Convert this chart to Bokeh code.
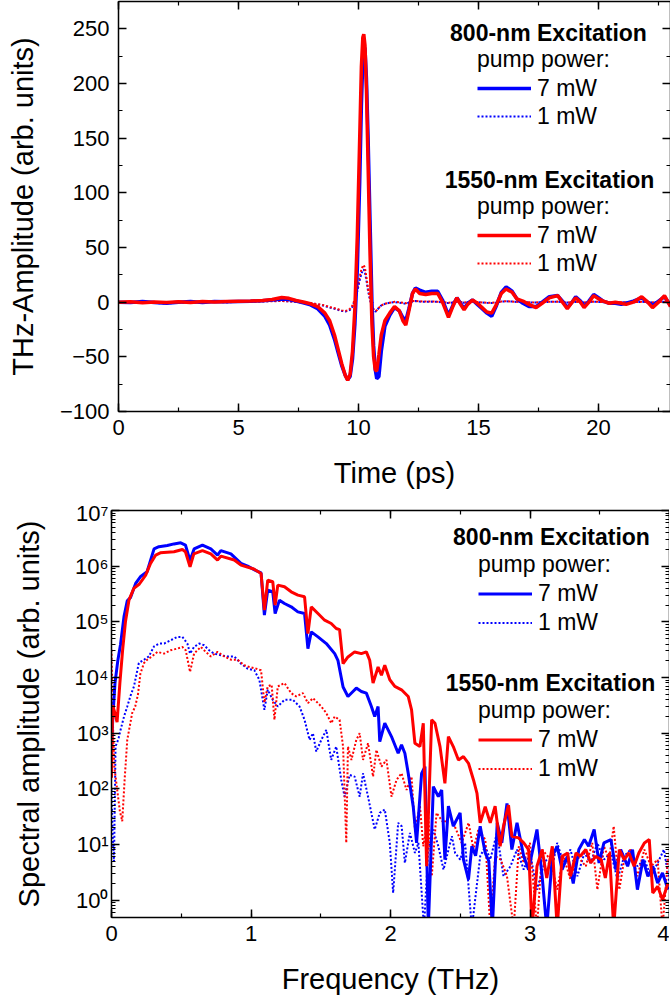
import numpy as np
from bokeh.plotting import figure
from bokeh.models import (Range1d, LinearAxis, LogAxis, LogScale, SingleIntervalTicker, FixedTicker,
                          CustomJSTickFormatter, Legend, LegendItem, Label)
from bokeh.embed import file_html
from bokeh.resources import INLINE

# ---------------- data: THz time traces (top panel) ----------------
time_ps = [0, 0.5, 1, 1.5, 2, 2.5, 3, 3.5, 4, 4.5, 5, 5.5, 6,
           6.4, 6.8, 7.1, 7.4, 7.7,
           8.0, 8.3, 8.6, 8.8, 9.0,
           9.15, 9.3, 9.45, 9.55, 9.65, 9.75, 9.85, 9.95,
           10.05, 10.12, 10.18, 10.22, 10.27, 10.33, 10.4, 10.48, 10.56, 10.63, 10.7, 10.76, 10.85, 10.95,
           11.1, 11.3, 11.5, 11.7, 11.85, 11.97,
           12.1, 12.25, 12.37, 12.55, 12.8,
           13.05, 13.3, 13.5, 13.75, 13.95,
           14.1, 14.25, 14.4, 14.55, 14.75, 14.95,
           15.15, 15.35, 15.55, 15.75, 15.95,
           16.15, 16.4, 16.6, 16.85,
           17.1, 17.4, 17.65, 17.95,
           18.3, 18.5, 18.7, 18.9,
           19.05, 19.25, 19.4, 19.6, 19.8,
           20.0, 20.2, 20.45, 20.7, 20.95,
           21.15, 21.45, 21.8,
           22.05, 22.25, 22.5, 22.75, 23.0]

thz_800nm_7mW = [0, -0.3, 0.5, -0.3, -1.0, 0, 0.5, -0.2, 0.6, 0.3, 0.6, 0.9, 1.4,
                 2, 3, 2.5, 1, -0.5,
                 -2.5, -6, -13, -21, -34,
                 -46, -58, -67, -71, -68, -52, -20, 30,
                 110, 180, 222, 234, 232, 205, 150, 75, 0, -40, -62, -70, -68, -45,
                 -22, -12, -5, -8, -14, -17,
                 -6, 8, 13, 11, 9,
                 10, 10, 2, -12, -2,
                 4, -1, -6, -1, 2, -2,
                 -6, -10, -13, -3, 9,
                 14, 10, 3, -1,
                 -4, -4, 0, 5,
                 6, 1, -5, 0,
                 5, 1, -4, 1, 7,
                 4, 1, -1, -1, -2,
                 -1, 1, 4,
                 0, -3, 1, 5, -3]

thz_800nm_1mW = [0, -0.5, 0.3, -0.8, -1.2, -0.3, -0.8, 0.2, 0.3, -0.2, 0.3, 0.5, 0.8,
                 1, 1.2, 0.8, 0.3, -0.5,
                 -1, -2, -3.5, -5, -6,
                 -7, -8, -8.5, -8, -7, -4, 2, 10,
                 20, 26, 29, 30, 27, 20, 10, 2, -4, -7, -8.5, -8, -5, -3,
                 -1.5, -0.5, 0, -0.5, -1, -1.5,
                 -0.5, 0.5, 1, 0.5, 0.3,
                 0.5, 0.3, -0.3, -0.8, -0.3,
                 0.3, 0, -0.5, 0, 0.3, 0,
                 -0.3, -0.6, -0.8, -0.2, 0.5,
                 0.8, 0.5, 0.2, 0,
                 -0.2, -0.3, 0, 0.3,
                 0.4, 0, -0.4, 0,
                 0.3, 0, -0.3, 0, 0.4,
                 0.2, 0, -0.1, 0, -0.1,
                 -0.1, 0, 0.3,
                 0, -0.3, 0, 0.4, -0.2]

thz_1550nm_7mW = [0, 0.3, -0.5, 0.2, -0.4, 0.3, -0.3, 0.5, 0.2, 0.5, 0.8, 1.0, 1.5,
                  2.5, 4.2, 3.5, 1.5, 0.2,
                  -1.5, -4, -10, -17, -30,
                  -43, -56, -67, -71.5, -66, -45, -5, 60,
                  150, 215, 242, 245, 235, 195, 125, 45, -20, -50, -62, -63, -48, -30,
                  -17, -10, -4, -8, -17, -21,
                  -8, 8, 12, 8, 7,
                  8, 8, 0, -14, -3,
                  4, -2, -7, -2, 2, -1,
                  -5, -9, -10, -2, 8,
                  12, 9, 3, 1,
                  -2, -5, -1, 4,
                  6, 0, -6, 0,
                  4, 0, -5, 0, 6,
                  3, 1, -1, 0, -1,
                  -2, 0, 5,
                  0, -5, 0, 6, -4]

thz_1550nm_1mW = [0, 0.2, -0.2, 0.1, -0.3, 0.2, -0.1, 0.3, 0.2, 0.3, 0.4, 0.5, 0.7,
                  0.9, 1.0, 0.8, 0.3, -0.3,
                  -0.8, -1.8, -3, -4.5, -5.5,
                  -6.5, -7.5, -8, -7.5, -6, -3, 3, 12,
                  23, 30, 33, 34, 31, 23, 12, 3, -3.5, -6.5, -8, -7.5, -5, -3,
                  -1.5, -0.5, 0.3, 0, -0.5, -1,
                  0, 1, 1.2, 0.8, 0.5,
                  0.6, 0.4, 0, -0.5, 0,
                  0.4, 0.1, -0.3, 0, 0.3, 0.1,
                  -0.2, -0.5, -0.6, 0, 0.6,
                  0.9, 0.6, 0.3, 0.1,
                  -0.1, -0.3, 0.1, 0.3,
                  0.5, 0.1, -0.3, 0.1,
                  0.4, 0.1, -0.2, 0.1, 0.5,
                  0.3, 0.1, 0, 0.1, 0,
                  -0.1, 0.1, 0.3,
                  0.1, -0.2, 0.1, 0.4, -0.1]

# ---------------- data: spectra (bottom panel), log10 of spectral amplitude ----------------
freq_800nm_7mW = [0.000, 0.010, 0.025, 0.045, 0.065, 0.090, 0.113, 0.137, 0.173, 0.207,
                  0.255, 0.305, 0.340, 0.400, 0.448, 0.496, 0.530, 0.563, 0.592, 0.652,
                  0.712, 0.760, 0.784, 0.856, 0.928, 0.976, 1.036, 1.072, 1.096, 1.120,
                  1.156, 1.173, 1.204, 1.240, 1.288, 1.336, 1.384, 1.408, 1.432, 1.480,
                  1.540, 1.600, 1.623, 1.660, 1.695, 1.731, 1.755, 1.791, 1.827, 1.863,
                  1.887, 1.911, 1.923, 1.959, 2.007, 2.055, 2.079, 2.103, 2.127, 2.163,
                  2.187, 2.223, 2.247, 2.271, 2.307, 2.343, 2.367, 2.390, 2.415, 2.450,
                  2.499, 2.523, 2.559, 2.583, 2.610, 2.643, 2.679, 2.705, 2.730, 2.765,
                  2.798, 2.835, 2.870, 2.907, 2.955, 2.990, 3.050, 3.087, 3.120, 3.160,
                  3.195, 3.230, 3.270, 3.310, 3.350, 3.390, 3.420, 3.460, 3.495, 3.530,
                  3.580, 3.615, 3.650, 3.700, 3.735, 3.770, 3.810, 3.845, 3.880, 3.915,
                  3.950, 3.990]
log10_spec_800nm_7mW = [2.8, 3.3, 3.9, 4.3, 4.6, 5.1, 5.38, 5.44, 5.69, 5.81,
                        5.90, 6.31, 6.35, 6.37, 6.40, 6.42, 6.38, 6.10, 6.31, 6.38,
                        6.31, 6.20, 6.28, 6.22, 6.05, 6.00, 5.92, 5.88, 5.12, 5.57,
                        5.54, 5.15, 5.39, 5.33, 5.27, 5.18, 5.15, 4.52, 4.82, 4.73,
                        4.61, 4.43, 4.31, 3.83, 3.66, 3.75, 3.81, 3.75, 3.72, 3.48,
                        3.30, 3.48, 2.85, 3.18, 2.94, 2.64, 2.79, 2.64, 2.28, 1.68,
                        1.03, 2.28, 2.40, -0.5, 2.04, 1.86, 1.98, 0.73, 1.69, 1.33,
                        1.57, 0.73, 0.37, 0.97, 0.80, 1.33, 0.85, 0.70, -0.5, 1.39,
                        1.03, 1.74, 0.91, 1.39, 0.79, 0.55, 1.27, 0.43, -0.5, 0.79,
                        0.97, 0.55, 0.79, 0.30, 0.91, 1.09, 0.97, 1.27, 0.67, 1.03,
                        1.09, 0.55, 0.91, 0.61, 0.91, 0.19, 0.73, 0.43, 0.61, 0.31,
                        0.49, 0.19]

freq_800nm_1mW = [0.000, 0.008, 0.018, 0.029, 0.050, 0.065, 0.090, 0.113, 0.140, 0.161,
                  0.196, 0.233, 0.268, 0.305, 0.340, 0.377, 0.424, 0.472, 0.508, 0.544,
                  0.563, 0.592, 0.628, 0.664, 0.700, 0.736, 0.784, 0.830, 0.880, 0.928,
                  0.976, 1.024, 1.060, 1.096, 1.120, 1.156, 1.192, 1.240, 1.300, 1.348,
                  1.384, 1.420, 1.444, 1.468, 1.504, 1.540, 1.575, 1.611, 1.647, 1.671,
                  1.707, 1.743, 1.779, 1.803, 1.839, 1.887, 1.923, 1.959, 1.995, 2.019,
                  2.055, 2.080, 2.103, 2.139, 2.175, 2.200, 2.240, 2.270, 2.307, 2.343,
                  2.380, 2.440, 2.463, 2.500, 2.535, 2.583, 2.643, 2.680, 2.715, 2.763,
                  2.810, 2.860, 2.907, 2.955, 3.000, 3.050, 3.110, 3.160, 3.195, 3.240,
                  3.290, 3.340, 3.390, 3.435, 3.483, 3.530, 3.580, 3.627, 3.675, 3.720,
                  3.770, 3.820, 3.867, 3.915, 3.960, 4.000]
log10_spec_800nm_1mW = [2.0, 1.2, 0.7, 2.76, 2.9, 3.06, 3.3, 3.48, 3.7, 3.84,
                        4.26, 4.32, 4.38, 4.56, 4.61, 4.61, 4.67, 4.73, 4.73, 4.61,
                        4.43, 4.55, 4.61, 4.58, 4.49, 4.43, 4.40, 4.38, 4.38, 4.25,
                        4.16, 4.13, 3.96, 3.42, 3.78, 3.60, 3.48, 3.60, 3.60, 3.48,
                        3.24, 2.88, 3.00, 2.67, 2.88, 3.06, 2.52, 2.76, 2.16, 1.86,
                        2.25, 2.22, 1.86, 2.28, 1.86, 1.27, 1.57, 1.63, 1.03, 0.13,
                        1.39, 1.33, 0.67, 1.21, 0.85, 1.03, -0.5, 0.9, 1.27, 0.97,
                        0.55, 1.15, 0.85, 0.73, 1.03, -0.5, 0.79, 0.97, 0.73, 1.21,
                        0.43, 0.61, 0.91, 0.55, 0.85, 0.19, 0.73, 0.61, 1.03, 0.67,
                        0.91, 0.43, 0.85, 0.67, 1.03, 0.73, 0.85, 0.37, 0.79, 0.91,
                        0.61, 0.73, 0.43, 0.67, 0.91, 0.31]

freq_1550nm_7mW = [0.000, 0.008, 0.020, 0.040, 0.060, 0.080, 0.100, 0.125, 0.160, 0.200,
                   0.245, 0.280, 0.317, 0.350, 0.448, 0.508, 0.530, 0.563, 0.590, 0.652,
                   0.712, 0.760, 0.784, 0.880, 0.928, 1.020, 1.072, 1.096, 1.120, 1.156,
                   1.173, 1.192, 1.240, 1.288, 1.336, 1.384, 1.408, 1.432, 1.480, 1.528,
                   1.575, 1.611, 1.635, 1.660, 1.695, 1.743, 1.791, 1.827, 1.851, 1.875,
                   1.911, 1.935, 1.959, 1.995, 2.031, 2.079, 2.127, 2.151, 2.175, 2.211,
                   2.235, 2.259, 2.295, 2.319, 2.355, 2.390, 2.415, 2.450, 2.487, 2.523,
                   2.559, 2.595, 2.620, 2.643, 2.679, 2.715, 2.750, 2.786, 2.810, 2.846,
                   2.870, 2.918, 2.955, 2.990, 3.015, 3.050, 3.087, 3.120, 3.160, 3.195,
                   3.230, 3.270, 3.290, 3.330, 3.360, 3.400, 3.435, 3.470, 3.510, 3.540,
                   3.570, 3.600, 3.640, 3.675, 3.710, 3.746, 3.780, 3.820, 3.855, 3.880,
                   3.915, 3.950, 3.990]
log10_spec_1550nm_7mW = [2.2, 3.5, 3.4, 3.2, 3.9, 4.5, 5.0, 5.39, 5.60, 5.68,
                         5.84, 6.05, 6.20, 6.24, 6.26, 6.30, 6.26, 5.99, 6.22, 6.28,
                         6.22, 6.11, 6.18, 6.11, 6.02, 5.95, 5.87, 5.21, 5.75, 5.72,
                         5.30, 5.66, 5.63, 5.54, 5.48, 5.45, 4.79, 5.27, 5.15, 5.03,
                         4.97, 4.88, 4.86, 4.25, 4.37, 4.46, 4.43, 4.46, 4.31, 3.90,
                         4.19, 4.04, 4.22, 3.96, 3.84, 3.78, 3.66, 3.42, 2.82, 2.76,
                         3.18, 0.61, 3.24, 3.18, 2.76, 2.10, 2.94, 2.76, 2.52, 2.58,
                         2.46, 2.16, 1.92, 1.39, 1.68, 1.39, 1.69, 0.97, 1.33, 1.71,
                         1.15, 1.12, 1.03, 0.91, -0.5, 0.61, 0.91, 0.40, 0.97, -0.5,
                         0.79, 0.85, 0.43, 0.85, 0.79, 0.91, 0.67, 0.79, 0.73, 0.40,
                         0.85, -0.5, 0.91, 0.73, 0.85, 0.61, 0.85, 1.03, 1.09, 0.13,
                         0.25, 0.01, 0.31]

freq_1550nm_1mW = [0.000, 0.010, 0.020, 0.040, 0.060, 0.077, 0.095, 0.113, 0.148, 0.170,
                   0.190, 0.207, 0.233, 0.256, 0.290, 0.329, 0.377, 0.424, 0.472, 0.508,
                   0.532, 0.563, 0.592, 0.640, 0.676, 0.712, 0.760, 0.808, 0.856, 0.904,
                   0.952, 0.988, 1.036, 1.072, 1.096, 1.120, 1.148, 1.168, 1.192, 1.240,
                   1.288, 1.324, 1.372, 1.408, 1.444, 1.504, 1.540, 1.575, 1.600, 1.635,
                   1.660, 1.683, 1.695, 1.720, 1.755, 1.779, 1.803, 1.839, 1.875, 1.899,
                   1.935, 1.971, 2.007, 2.043, 2.079, 2.115, 2.151, 2.175, 2.211, 2.235,
                   2.271, 2.296, 2.330, 2.380, 2.427, 2.460, 2.510, 2.560, 2.595, 2.630,
                   2.680, 2.715, 2.750, 2.790, 2.835, 2.883, 2.920, 2.955, 3.000, 3.050,
                   3.087, 3.147, 3.195, 3.240, 3.290, 3.340, 3.400, 3.446, 3.483, 3.530,
                   3.567, 3.600, 3.640, 3.675, 3.720, 3.770, 3.820, 3.867, 3.915, 3.950,
                   3.990]
log10_spec_1550nm_1mW = [4.5, 3.2, 2.4, 2.0, 1.6, 1.42, 2.2, 2.88, 3.36, 3.48,
                         3.70, 4.07, 4.26, 4.32, 4.38, 4.46, 4.43, 4.49, 4.52, 4.55,
                         4.49, 4.10, 4.43, 4.55, 4.46, 4.38, 4.46, 4.38, 4.32, 4.32,
                         4.22, 4.19, 4.16, 4.13, 3.55, 3.84, 3.87, 3.24, 3.84, 3.90,
                         3.72, 3.66, 3.72, 3.54, 3.63, 3.48, 3.36, 3.18, 3.30, 3.24,
                         2.76, 1.03, 2.76, 2.52, 2.88, 3.00, 2.52, 2.82, 2.22, 2.70,
                         2.40, 2.52, 1.86, 2.16, 2.28, 1.98, 2.22, 1.27, 1.69, 0.97,
                         1.51, 0.43, 1.57, 1.39, 1.51, 1.33, 1.03, 1.39, 0.91, 1.27,
                         1.09, -0.5, 0.79, 0.73, 0.43, -0.5, 0.97, 0.67, 1.03, -0.5,
                         0.91, 0.73, 0.19, 0.79, 0.37, 0.79, 0.61, 1.03, 0.19, 0.97,
                         0.73, 1.33, 0.19, 0.73, 0.91, 0.43, 0.91, 0.61, 0.73, -0.5,
                         0.79]

# ---------------- styling ----------------
FONT = "Liberation Sans"
BLUE = "#0000ff"
RED = "#ff0000"
TICK_FS = "22px"
LABEL_FS = "29px"
LEG_FS = "23px"

SUP_JS = """
const sup = ["\\u2070","\\u00b9","\\u00b2","\\u00b3","\\u2074","\\u2075","\\u2076","\\u2077","\\u2078","\\u2079"];
const e = Math.round(Math.log10(tick));
let s = "";
for (const c of String(e)) { s += (c === "-") ? "\\u207b" : sup[parseInt(c)]; }
return "10" + s;
"""


def style_axis(ax, show_labels=True, label_standoff=8):
    ax.axis_line_width = 1.5
    ax.axis_line_color = "black"
    ax.major_tick_in = 8
    ax.major_tick_out = 0
    ax.minor_tick_in = 4
    ax.minor_tick_out = 0
    ax.major_tick_line_width = 1.5
    ax.minor_tick_line_width = 1.2
    ax.major_tick_line_color = "black"
    ax.minor_tick_line_color = "black"
    if show_labels:
        ax.major_label_text_font = FONT
        ax.major_label_text_font_size = TICK_FS
        ax.major_label_text_color = "black"
        ax.major_label_standoff = label_standoff
        ax.axis_label_text_font = FONT
        ax.axis_label_text_font_size = LABEL_FS
        ax.axis_label_text_font_style = "normal"
        ax.axis_label_text_color = "black"
    else:
        ax.formatter = CustomJSTickFormatter(code="return ''")
        ax.major_label_text_font_size = "1px"
        ax.major_label_standoff = 0


def add_legend(p, r7, r1, x, y, row_h):
    leg = Legend(items=[LegendItem(label="7 mW", renderers=[r7]),
                        LegendItem(label="1 mW", renderers=[r1])],
                 location=(x, y), title="pump power:",
                 title_text_font=FONT, title_text_font_size=LEG_FS,
                 title_text_font_style="normal", title_text_color="black",
                 title_standoff=1,
                 label_text_font=FONT, label_text_font_size=LEG_FS, label_text_color="black",
                 label_standoff=6, glyph_width=54, glyph_height=row_h, label_height=row_h,
                 spacing=0, padding=0, margin=0,
                 background_fill_alpha=0, border_line_alpha=0)
    p.add_layout(leg)


def add_header(p, text, x, y):
    p.add_layout(Label(x=x, y=y, x_units="screen", y_units="screen", text=text,
                       text_font=FONT, text_font_size=LEG_FS, text_font_style="bold",
                       text_color="black", text_align="center", text_baseline="middle"))


# ---------------- top panel ----------------
p1 = figure(width=670, height=500, output_backend="svg", toolbar_location=None,
            x_range=Range1d(0, 23), y_range=Range1d(-100, 275),
            x_axis_type=None, y_axis_type=None,
            min_border_left=118, min_border_right=0, min_border_top=1, min_border_bottom=89)
p1.outline_line_color = None
p1.background_fill_color = "white"

xb = LinearAxis(ticker=SingleIntervalTicker(interval=5, num_minor_ticks=2), axis_label="Time (ps)")
style_axis(xb, True, 8)
xb.axis_label_standoff = 19
p1.add_layout(xb, "below")
yl = LinearAxis(ticker=SingleIntervalTicker(interval=50, num_minor_ticks=2),
                axis_label="THz-Amplitude (arb. units)")
style_axis(yl, True, 9)
yl.axis_label_standoff = 18
p1.add_layout(yl, "left")
xt = LinearAxis(ticker=SingleIntervalTicker(interval=5, num_minor_ticks=2))
style_axis(xt, False)
p1.add_layout(xt, "above")
yr = LinearAxis(ticker=SingleIntervalTicker(interval=50, num_minor_ticks=2))
style_axis(yr, False)
p1.add_layout(yr, "right")

t_b1 = p1.line(time_ps, thz_800nm_1mW, line_color=BLUE, line_width=2, line_dash="2 2")
t_r1 = p1.line(time_ps, thz_1550nm_1mW, line_color=RED, line_width=2, line_dash="2 2")
t_b7 = p1.line(time_ps, thz_800nm_7mW, line_color=BLUE, line_width=3.5)
t_r7 = p1.line(time_ps, thz_1550nm_7mW, line_color=RED, line_width=3.5)

add_header(p1, "800-nm Excitation", 430, 379)
add_legend(p1, t_b7, t_b1, 359, 281, 28)
add_header(p1, "1550-nm Excitation", 431, 232)
add_legend(p1, t_r7, t_r1, 359, 134, 28)

# ---------------- bottom panel ----------------
p2 = figure(width=669, height=497, output_backend="svg", toolbar_location=None,
            x_range=Range1d(0, 4), y_range=Range1d(0.49, 1e7),
            x_axis_type=None, y_axis_type=None,
            min_border_left=111, min_border_right=0, min_border_top=10, min_border_bottom=79)
p2.y_scale = LogScale()
p2.outline_line_color = None
p2.background_fill_color = "white"

decades = [1, 10, 100, 1e3, 1e4, 1e5, 1e6, 1e7]
minor_log = [m * 10.0 ** e for e in range(-1, 7) for m in range(2, 10)]

fb = LinearAxis(ticker=SingleIntervalTicker(interval=1, num_minor_ticks=2), axis_label="Frequency (THz)")
style_axis(fb, True, 8)
fb.axis_label_standoff = 19
fb.axis_label_text_line_height = 0.8
p2.add_layout(fb, "below")
sl = LogAxis(ticker=FixedTicker(ticks=decades, minor_ticks=minor_log),
             formatter=CustomJSTickFormatter(code=SUP_JS),
             axis_label="Spectral amplitude (arb. units)")
style_axis(sl, True, 3)
sl.axis_label_standoff = 27
p2.add_layout(sl, "left")
ft = LinearAxis(ticker=SingleIntervalTicker(interval=1, num_minor_ticks=2))
style_axis(ft, False)
p2.add_layout(ft, "above")
sr = LogAxis(ticker=FixedTicker(ticks=decades, minor_ticks=minor_log))
style_axis(sr, False)
p2.add_layout(sr, "right")

s_b1 = p2.line(freq_800nm_1mW, 10.0 ** np.array(log10_spec_800nm_1mW),
               line_color=BLUE, line_width=2, line_dash="2 2")
s_r1 = p2.line(freq_1550nm_1mW, 10.0 ** np.array(log10_spec_1550nm_1mW),
               line_color=RED, line_width=2, line_dash="2 2")
s_b7 = p2.line(freq_800nm_7mW, 10.0 ** np.array(log10_spec_800nm_7mW),
               line_color=BLUE, line_width=3)
s_r7 = p2.line(freq_1550nm_7mW, 10.0 ** np.array(log10_spec_1550nm_7mW),
               line_color=RED, line_width=3)

add_header(p2, "800-nm Excitation", 440, 381)
add_legend(p2, s_b7, s_b1, 367, 280, 29)
add_header(p2, "1550-nm Excitation", 439, 235)
add_legend(p2, s_r7, s_r1, 367, 134, 29)

# two independent roots, stacked, so that each panel keeps its own frame position
open("out.html", "w").write(file_html([p1, p2], INLINE))
